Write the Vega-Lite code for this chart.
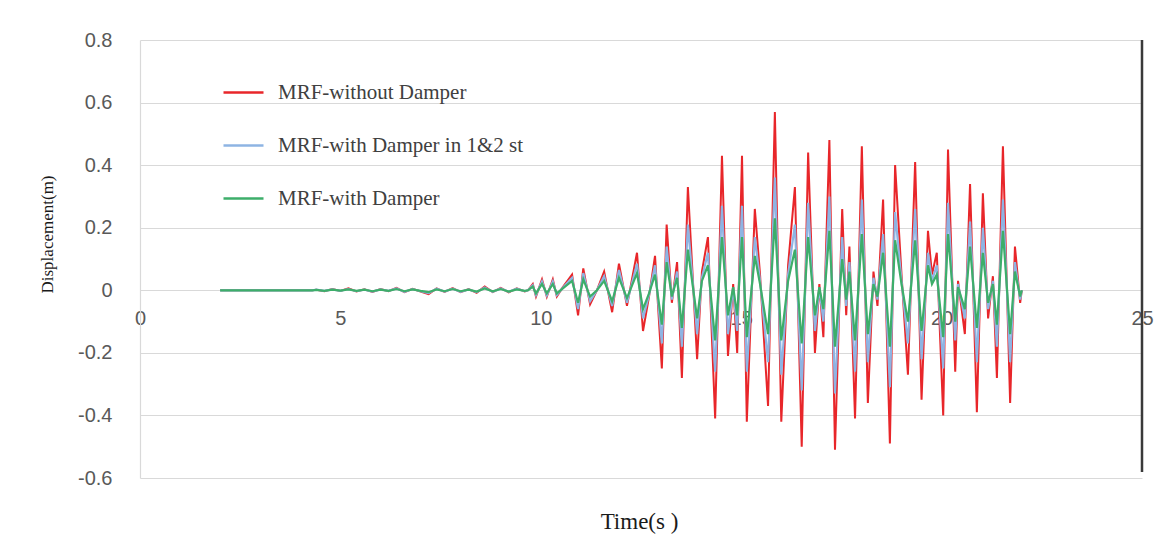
{
"$schema": "https://vega.github.io/schema/vega-lite/v6.json",
"width": 1002, "height": 438,
"autosize": {"type": "none"},
"padding": {"left": 140, "top": 40, "right": 22, "bottom": 77},
"background": "white",
"config": {"view": {"stroke": null}},
"datasets": {
"red": [
{"t":2.0,"v":0},{"t":4.3,"v":0},{"t":4.4,"v":0.002},{"t":4.6,"v":-0.003},{"t":4.8,"v":0.004},{"t":5.0,"v":-0.002},{"t":5.2,"v":0.006},{"t":5.4,"v":-0.004},{"t":5.6,"v":0.003},{"t":5.8,"v":-0.005},{"t":6.0,"v":0.004},{"t":6.2,"v":-0.003},{"t":6.4,"v":0.008},{"t":6.6,"v":-0.006},{"t":6.8,"v":0.005},{"t":7.0,"v":-0.004},{"t":7.2,"v":-0.012},{"t":7.4,"v":0.006},{"t":7.6,"v":-0.005},{"t":7.8,"v":0.007},{"t":8.0,"v":-0.006},{"t":8.2,"v":0.004},{"t":8.4,"v":-0.008},{"t":8.6,"v":0.012},{"t":8.8,"v":-0.006},{"t":9.0,"v":0.008},{"t":9.2,"v":-0.007},{"t":9.4,"v":0.006},{"t":9.6,"v":-0.004},{"t":9.68,"v":0},{"t":9.8,"v":0.02},{"t":9.88,"v":-0.02},{"t":10.03,"v":0.035},{"t":10.15,"v":-0.02},{"t":10.3,"v":0.035},{"t":10.4,"v":-0.02},{"t":10.55,"v":0.01},{"t":10.78,"v":0.05},{"t":10.93,"v":-0.08},{"t":11.06,"v":0.07},{"t":11.23,"v":-0.045},{"t":11.4,"v":0},{"t":11.58,"v":0.06},{"t":11.78,"v":-0.07},{"t":11.95,"v":0.085},{"t":12.15,"v":-0.05},{"t":12.4,"v":0.12},{"t":12.55,"v":-0.13},{"t":12.7,"v":-0.02},{"t":12.85,"v":0.11},{"t":13.02,"v":-0.25},{"t":13.14,"v":0.21},{"t":13.27,"v":-0.04},{"t":13.4,"v":0.09},{"t":13.52,"v":-0.28},{"t":13.67,"v":0.33},{"t":13.9,"v":-0.22},{"t":14.02,"v":0.06},{"t":14.17,"v":0.17},{"t":14.35,"v":-0.41},{"t":14.52,"v":0.43},{"t":14.67,"v":-0.21},{"t":14.8,"v":0.02},{"t":14.9,"v":-0.2},{"t":15.02,"v":0.43},{"t":15.14,"v":-0.42},{"t":15.34,"v":0.26},{"t":15.47,"v":0.05},{"t":15.67,"v":-0.37},{"t":15.84,"v":0.57},{"t":16.0,"v":-0.42},{"t":16.17,"v":0.08},{"t":16.34,"v":0.33},{"t":16.51,"v":-0.5},{"t":16.67,"v":0.44},{"t":16.84,"v":-0.2},{"t":16.95,"v":0.02},{"t":17.05,"v":-0.15},{"t":17.2,"v":0.48},{"t":17.34,"v":-0.51},{"t":17.52,"v":0.26},{"t":17.62,"v":-0.08},{"t":17.7,"v":0.14},{"t":17.84,"v":-0.41},{"t":18.01,"v":0.46},{"t":18.16,"v":-0.36},{"t":18.3,"v":0.06},{"t":18.4,"v":-0.05},{"t":18.54,"v":0.29},{"t":18.71,"v":-0.49},{"t":18.84,"v":0.4},{"t":19.0,"v":0.05},{"t":19.16,"v":-0.27},{"t":19.34,"v":0.41},{"t":19.5,"v":-0.35},{"t":19.66,"v":0.19},{"t":19.76,"v":0.05},{"t":19.88,"v":0.12},{"t":20.04,"v":-0.4},{"t":20.16,"v":0.45},{"t":20.34,"v":-0.26},{"t":20.41,"v":0.03},{"t":20.58,"v":-0.14},{"t":20.71,"v":0.34},{"t":20.88,"v":-0.39},{"t":21.03,"v":0.31},{"t":21.16,"v":-0.09},{"t":21.28,"v":0.045},{"t":21.38,"v":-0.28},{"t":21.53,"v":0.46},{"t":21.71,"v":-0.36},{"t":21.83,"v":0.14},{"t":21.96,"v":-0.04},{"t":22.0,"v":0}
],
"blue": [
{"t":2.0,"v":0},{"t":4.3,"v":0},{"t":4.4,"v":0.002},{"t":4.6,"v":-0.002},{"t":4.8,"v":0.003},{"t":5.0,"v":-0.002},{"t":5.2,"v":0.004},{"t":5.4,"v":-0.003},{"t":5.6,"v":0.002},{"t":5.8,"v":-0.004},{"t":6.0,"v":0.003},{"t":6.2,"v":-0.002},{"t":6.4,"v":0.006},{"t":6.6,"v":-0.005},{"t":6.8,"v":0.004},{"t":7.0,"v":-0.003},{"t":7.2,"v":-0.009},{"t":7.4,"v":0.005},{"t":7.6,"v":-0.004},{"t":7.8,"v":0.005},{"t":8.0,"v":-0.005},{"t":8.2,"v":0.003},{"t":8.4,"v":-0.006},{"t":8.6,"v":0.009},{"t":8.8,"v":-0.005},{"t":9.0,"v":0.006},{"t":9.2,"v":-0.005},{"t":9.4,"v":0.005},{"t":9.6,"v":-0.003},{"t":9.68,"v":0},{"t":9.8,"v":0.016},{"t":9.88,"v":-0.015},{"t":10.03,"v":0.028},{"t":10.15,"v":-0.016},{"t":10.3,"v":0.028},{"t":10.4,"v":-0.015},{"t":10.55,"v":0.008},{"t":10.78,"v":0.04},{"t":10.93,"v":-0.06},{"t":11.06,"v":0.055},{"t":11.23,"v":-0.035},{"t":11.4,"v":0},{"t":11.58,"v":0.045},{"t":11.78,"v":-0.05},{"t":11.95,"v":0.065},{"t":12.15,"v":-0.04},{"t":12.4,"v":0.085},{"t":12.55,"v":-0.09},{"t":12.7,"v":-0.015},{"t":12.85,"v":0.08},{"t":13.02,"v":-0.17},{"t":13.14,"v":0.14},{"t":13.27,"v":-0.03},{"t":13.4,"v":0.06},{"t":13.52,"v":-0.18},{"t":13.67,"v":0.21},{"t":13.9,"v":-0.14},{"t":14.02,"v":0.04},{"t":14.17,"v":0.12},{"t":14.35,"v":-0.26},{"t":14.52,"v":0.27},{"t":14.67,"v":-0.14},{"t":14.8,"v":0.01},{"t":14.9,"v":-0.13},{"t":15.02,"v":0.27},{"t":15.14,"v":-0.26},{"t":15.34,"v":0.17},{"t":15.47,"v":0.03},{"t":15.67,"v":-0.23},{"t":15.84,"v":0.36},{"t":16.0,"v":-0.27},{"t":16.17,"v":0.05},{"t":16.34,"v":0.21},{"t":16.51,"v":-0.32},{"t":16.67,"v":0.28},{"t":16.84,"v":-0.13},{"t":16.95,"v":0.01},{"t":17.05,"v":-0.1},{"t":17.2,"v":0.3},{"t":17.34,"v":-0.33},{"t":17.52,"v":0.17},{"t":17.62,"v":-0.05},{"t":17.7,"v":0.09},{"t":17.84,"v":-0.26},{"t":18.01,"v":0.29},{"t":18.16,"v":-0.23},{"t":18.3,"v":0.04},{"t":18.4,"v":-0.03},{"t":18.54,"v":0.18},{"t":18.71,"v":-0.31},{"t":18.84,"v":0.25},{"t":19.0,"v":0.03},{"t":19.16,"v":-0.17},{"t":19.34,"v":0.26},{"t":19.5,"v":-0.22},{"t":19.66,"v":0.12},{"t":19.76,"v":0.03},{"t":19.88,"v":0.08},{"t":20.04,"v":-0.25},{"t":20.16,"v":0.28},{"t":20.34,"v":-0.16},{"t":20.41,"v":0.02},{"t":20.58,"v":-0.09},{"t":20.71,"v":0.22},{"t":20.88,"v":-0.23},{"t":21.03,"v":0.2},{"t":21.16,"v":-0.06},{"t":21.28,"v":0.03},{"t":21.38,"v":-0.18},{"t":21.53,"v":0.29},{"t":21.71,"v":-0.23},{"t":21.83,"v":0.09},{"t":21.96,"v":-0.03},{"t":22.0,"v":0}
],
"green": [
{"t":2.0,"v":0},{"t":4.3,"v":0},{"t":4.4,"v":0.001},{"t":4.6,"v":-0.002},{"t":4.8,"v":0.002},{"t":5.0,"v":-0.001},{"t":5.2,"v":0.003},{"t":5.4,"v":-0.002},{"t":5.6,"v":0.002},{"t":5.8,"v":-0.003},{"t":6.0,"v":0.002},{"t":6.2,"v":-0.002},{"t":6.4,"v":0.004},{"t":6.6,"v":-0.003},{"t":6.8,"v":0.003},{"t":7.0,"v":-0.002},{"t":7.2,"v":-0.006},{"t":7.4,"v":0.003},{"t":7.6,"v":-0.003},{"t":7.8,"v":0.004},{"t":8.0,"v":-0.003},{"t":8.2,"v":0.002},{"t":8.4,"v":-0.004},{"t":8.6,"v":0.006},{"t":8.8,"v":-0.003},{"t":9.0,"v":0.004},{"t":9.2,"v":-0.004},{"t":9.4,"v":0.003},{"t":9.6,"v":-0.002},{"t":9.68,"v":0},{"t":9.8,"v":0.012},{"t":9.88,"v":-0.01},{"t":10.03,"v":0.02},{"t":10.15,"v":-0.01},{"t":10.3,"v":0.02},{"t":10.4,"v":-0.01},{"t":10.55,"v":0.006},{"t":10.78,"v":0.03},{"t":10.93,"v":-0.04},{"t":11.06,"v":0.035},{"t":11.23,"v":-0.02},{"t":11.4,"v":0},{"t":11.58,"v":0.03},{"t":11.78,"v":-0.035},{"t":11.95,"v":0.04},{"t":12.15,"v":-0.025},{"t":12.4,"v":0.055},{"t":12.55,"v":-0.06},{"t":12.7,"v":-0.01},{"t":12.85,"v":0.05},{"t":13.02,"v":-0.11},{"t":13.14,"v":0.09},{"t":13.27,"v":-0.02},{"t":13.4,"v":0.04},{"t":13.52,"v":-0.12},{"t":13.67,"v":0.13},{"t":13.9,"v":-0.09},{"t":14.02,"v":0.03},{"t":14.17,"v":0.08},{"t":14.35,"v":-0.16},{"t":14.52,"v":0.17},{"t":14.67,"v":-0.08},{"t":14.8,"v":0.01},{"t":14.9,"v":-0.08},{"t":15.02,"v":0.17},{"t":15.14,"v":-0.15},{"t":15.34,"v":0.11},{"t":15.47,"v":0.02},{"t":15.67,"v":-0.14},{"t":15.84,"v":0.23},{"t":16.0,"v":-0.16},{"t":16.17,"v":0.03},{"t":16.34,"v":0.13},{"t":16.51,"v":-0.17},{"t":16.67,"v":0.17},{"t":16.84,"v":-0.08},{"t":16.95,"v":0.01},{"t":17.05,"v":-0.06},{"t":17.2,"v":0.19},{"t":17.34,"v":-0.18},{"t":17.52,"v":0.1},{"t":17.62,"v":-0.03},{"t":17.7,"v":0.06},{"t":17.84,"v":-0.16},{"t":18.01,"v":0.18},{"t":18.16,"v":-0.14},{"t":18.3,"v":0.02},{"t":18.4,"v":-0.02},{"t":18.54,"v":0.12},{"t":18.71,"v":-0.18},{"t":18.84,"v":0.16},{"t":19.0,"v":0.02},{"t":19.16,"v":-0.1},{"t":19.34,"v":0.16},{"t":19.5,"v":-0.13},{"t":19.66,"v":0.08},{"t":19.76,"v":0.02},{"t":19.88,"v":0.05},{"t":20.04,"v":-0.15},{"t":20.16,"v":0.18},{"t":20.34,"v":-0.1},{"t":20.41,"v":0.01},{"t":20.58,"v":-0.06},{"t":20.71,"v":0.14},{"t":20.88,"v":-0.12},{"t":21.03,"v":0.12},{"t":21.16,"v":-0.04},{"t":21.28,"v":0.02},{"t":21.38,"v":-0.11},{"t":21.53,"v":0.19},{"t":21.71,"v":-0.14},{"t":21.83,"v":0.06},{"t":21.96,"v":-0.02},{"t":22.0,"v":0}
],
"edge": [{"x": 25}]
},
"encoding": {
  "x": {"field": "t", "type": "quantitative",
    "scale": {"domain": [0, 25], "nice": false, "zero": false},
    "axis": {"values": [0, 5, 10, 15, 20, 25], "offset": -187.7, "grid": false, "domain": false, "ticks": false, "tickSize": 0,
      "labelFont": "Liberation Sans", "labelFontSize": 20, "labelColor": "#595959", "labelPadding": 18, "labelFlush": false,
      "title": "Time(s )", "titleFont": "Liberation Serif", "titleFontSize": 23, "titleFontWeight": "normal", "titleColor": "#1a1a1a",
      "titleX": 499, "titleY": 231, "titleBaseline": "middle", "titleAlign": "center"}},
  "y": {"field": "v", "type": "quantitative",
    "scale": {"domain": [-0.6, 0.8], "nice": false, "zero": false},
    "axis": {"values": [-0.6, -0.4, -0.2, 0, 0.2, 0.4, 0.6, 0.8], "grid": true, "gridColor": "#d9d9d9", "gridWidth": 1.2,
      "domain": true, "domainColor": "#d9d9d9", "domainWidth": 1.2, "ticks": false, "tickSize": 0,
      "labelExpr": "(datum.value < 0 ? '-' : '') + format(abs(datum.value), '~g')",
      "labelFont": "Liberation Sans", "labelFontSize": 20, "labelColor": "#595959", "labelPadding": 28,
      "title": "Displacement(m)", "titleFont": "Liberation Serif", "titleFontSize": 17, "titleFontWeight": "normal", "titleColor": "#1a1a1a",
      "titleX": -93, "titleY": 194, "titleBaseline": "middle", "titleAlign": "center", "titleAngle": -90}}
},
"layer": [
  {"data": {"name": "red"}, "mark": {"type": "line", "strokeWidth": 2, "interpolate": "linear"},
   "encoding": {"color": {"datum": "MRF-without Damper", "type": "nominal",
     "scale": {"domain": ["MRF-without Damper", "MRF-with Damper in 1&2 st", "MRF-with Damper"], "range": ["#E8262A", "#8EB4E3", "#3DAE6A"]},
     "legend": {"orient": "none", "legendX": 82, "legendY": 31, "title": null, "symbolType": "stroke", "symbolSize": 1600, "symbolStrokeWidth": 2.5,
       "labelFont": "Liberation Serif", "labelFontSize": 21, "labelColor": "#404040", "labelOffset": 13, "rowPadding": 21, "padding": 0, "labelLimit": 400}}}},
  {"data": {"name": "blue"}, "mark": {"type": "line", "strokeWidth": 2.2},
   "encoding": {"color": {"datum": "MRF-with Damper in 1&2 st", "type": "nominal"}}},
  {"data": {"name": "green"}, "mark": {"type": "line", "strokeWidth": 2.2},
   "encoding": {"color": {"datum": "MRF-with Damper", "type": "nominal"}}},
  {"data": {"name": "edge"}, "mark": {"type": "rule", "color": "#3a3a3a", "strokeWidth": 2.5},
   "encoding": {"x": {"field": "x", "type": "quantitative"}, "y": {"value": 0}, "y2": {"value": 432}}}
]
}
